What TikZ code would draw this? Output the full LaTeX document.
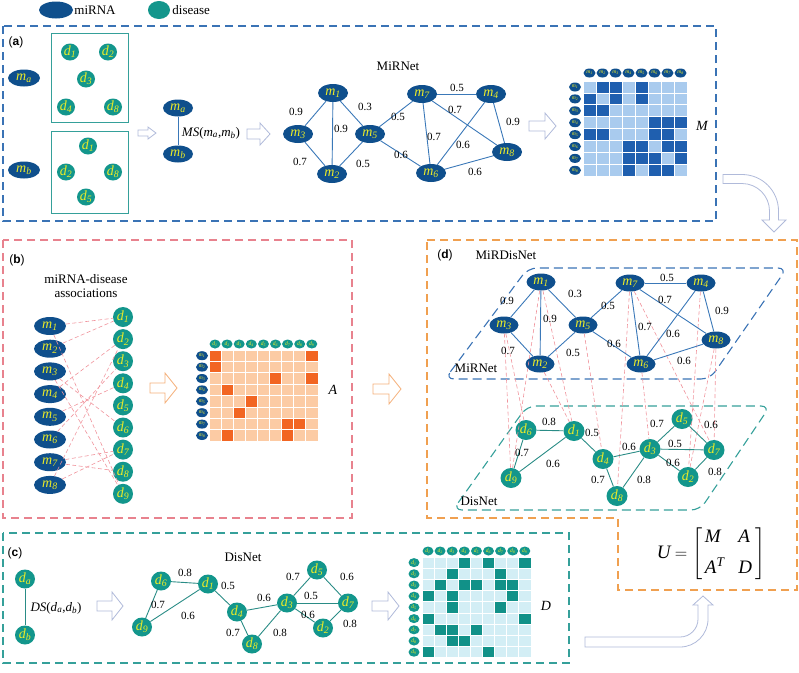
\documentclass[tikz,border=0pt]{standalone}
\usepackage{amsmath}
\usepackage{fontspec}
\setmainfont{Liberation Serif}
\newfontfamily\panelfont{Liberation Sans}
\usepackage{tikz}
\usetikzlibrary{shapes.geometric}
\usetikzlibrary{positioning}

\definecolor{mirblue}{HTML}{0F4F8C}
\definecolor{disteal}{HTML}{13968C}
\definecolor{labyellow}{HTML}{EBEB28}
\definecolor{edgeblue}{HTML}{3A78B8}
\definecolor{edgeteal}{HTML}{2A8C86}
\definecolor{assocpink}{HTML}{F0949C}
\definecolor{boxblue}{HTML}{3A73B5}
\definecolor{boxpink}{HTML}{E8828E}
\definecolor{boxteal}{HTML}{35A09A}
\definecolor{boxorange}{HTML}{F0A050}
\definecolor{mdark}{HTML}{1F5FAF}
\definecolor{mlight}{HTML}{A9CBEE}
\definecolor{adark}{HTML}{F26522}
\definecolor{alight}{HTML}{FCCBA4}
\definecolor{ddark}{HTML}{119188}
\definecolor{dlight}{HTML}{D3EEF5}
\definecolor{arrowgray}{HTML}{B0BADA}
\definecolor{arroworange}{HTML}{F5B07A}

\newcommand{\fsz}[1]{\fontsize{#1}{#1}\selectfont}
\newcommand{\nlab}[2]{#1\textsubscript{#2}}

\tikzset{
  mir/.style={ellipse, fill=mirblue, text=labyellow, inner sep=0pt,
    minimum width=30pt, minimum height=18pt, font=\fsz{14}\itshape},
  dis/.style={ellipse, fill=disteal, text=labyellow, inner sep=0pt,
    minimum width=20pt, minimum height=19pt, font=\fsz{14}\itshape},
  mhead/.style={ellipse, fill=mirblue, text=labyellow, inner sep=0pt,
    minimum width=12pt, minimum height=9pt, font=\fsz{5.5}\itshape},
  dhead/.style={mhead, fill=disteal},
  miredge/.style={draw=edgeblue, line width=0.9pt},
  disedge/.style={draw=edgeteal, line width=0.9pt},
  wt/.style={inner sep=0pt, font=\fsz{11}},
  assoc/.style={draw=assocpink, line width=0.6pt, dash pattern=on 4pt off 2.5pt},
  panel/.style={line width=1.2pt, dash pattern=on 8pt off 5pt},
  layer/.style={line width=1.1pt, dash pattern=on 9pt off 5pt, rounded corners=9pt},
  panellab/.style={inner sep=0pt, font=\panelfont\fsz{12}},
  title/.style={inner sep=0pt, font=\fsz{13}},
  matlab/.style={inner sep=0pt, font=\fsz{14}\itshape},
  hollow/.style={line width=0.8pt, fill=white}
}

\begin{document}
\begin{tikzpicture}[x=1pt, y=-1pt]
\useasboundingbox (0,0) rectangle (799,672);

% legend
\node[mir, minimum width=34pt, minimum height=17pt] (legm) at (56,10) {};
\node[right=1pt of legm, inner sep=0pt, font=\fsz{13}] (legmt) {miRNA};
\node[dis, minimum width=22pt, minimum height=18pt] (legd) at (159,10) {};
\node[right=2pt of legd, inner sep=0pt, font=\fsz{13}] (legdt) {disease};

% panels
\draw[panel, boxblue] (3,26) rectangle (716,221);
\draw[panel, boxpink] (3,240) rectangle (352,518);
\draw[panel, boxteal] (3,533) rectangle (569,663);
\draw[panel, boxorange] (427,240) -- (797,240) -- (797,590) -- (618,590) -- (618,518) -- (427,518) -- cycle;
\node[panellab] (pa) at (16,42) {(\textbf{a})};
\node[panellab] (pb) at (17,260) {(\textbf{b})};
\node[panellab] (pc) at (15,553) {(\textbf{c})};
\node[panellab] (pd) at (445,255) {(\textbf{d})};

% hollow arrows
\foreach \xa/\xb/\yy/\s/\h/\hl/\col in {138/156/133/3/6/8/arrowgray, 247/270/134/5/11/10/arrowgray,
    529/556/126/5/13/11/arrowgray, 150/177/388/5/15/12/arroworange, 373/401/389/5/15/12/arroworange,
    97/123/606/5/14/11/arrowgray, 372/399/606/5/14/11/arrowgray}
  \draw[hollow, draw=\col] (\xa,{\yy-\s}) -- ({\xb-\hl},{\yy-\s}) -- ({\xb-\hl},{\yy-\h}) -- (\xb,\yy)
    -- ({\xb-\hl},{\yy+\h}) -- ({\xb-\hl},{\yy+\s}) -- (\xa,{\yy+\s}) -- cycle;
\draw[hollow, draw=arrowgray] (723,174.5) -- (742,174.5) arc[start angle=-90, end angle=0, radius=36.5]
  -- (778.5,220) -- (786,220) -- (774,232) -- (762,220) -- (769.5,220) -- (769.5,211)
  arc[start angle=0, end angle=-90, radius=27.5] -- (723,183.5) -- cycle;
\draw[hollow, draw=arrowgray] (585,647) -- (680,647) arc[start angle=90, end angle=0, radius=28]
  -- (708,605) -- (713,605) -- (703,596) -- (693,605) -- (698,605) -- (698,619)
  arc[start angle=0, end angle=90, radius=18] -- (585,637) -- cycle;

% (a) similarity
\draw[draw=boxteal, line width=0.8pt] (51,33) rectangle (128,122);
\draw[draw=boxteal, line width=0.8pt] (51,131) rectangle (128,213);
\node[mir, minimum width=32pt, minimum height=17pt] (ama) at (24,78) {\nlab{m}{a}};
\node[mir, minimum width=32pt, minimum height=17pt] (amb) at (24,170) {\nlab{m}{b}};
\foreach \n/\x/\y in {1/70/52, 2/108/52, 3/86/79, 4/66/107, 8/113/107}
  \node[dis, minimum width=18pt, minimum height=17pt] (ua\n) at (\x,\y) {\nlab{d}{\n}};
\foreach \n/\x/\y in {1/88/146, 2/66/172, 8/113/172, 5/86/197}
  \node[dis, minimum width=18pt, minimum height=17pt] (la\n) at (\x,\y) {\nlab{d}{\n}};
\node[mir, minimum height=17pt] (pma) at (178,108) {\nlab{m}{a}};
\node[mir, minimum height=17pt] (pmb) at (178,154) {\nlab{m}{b}};
\draw[miredge] (pma) -- (pmb);
\node[inner sep=0pt, font=\fsz{13}] (msab) at (211,133) {\textit{MS}(\nlab{\textit{m}}{\textit{a}},\nlab{\textit{m}}{\textit{b}})};

% (a) MiRNet
\node[title] (ta) at (398,66) {MiRNet};
\foreach \n/\x/\y in {1/333/93, 2/332/174, 3/298/134, 4/491/94, 5/370/134, 6/431/173, 7/422/94, 8/507/152}
  \node[mir] (am\n) at (\x,\y) {\nlab{m}{\n}};
\foreach \p/\q in {1/3,3/2,1/2,1/5,2/5,5/7,5/6,7/4,7/8,7/6,4/6,4/8,6/8}
  \draw[miredge] (am\p) -- (am\q);
\foreach \x/\y/\w [count=\k] in {296/112/0.9, 300/162/0.7, 341/129/0.9, 365/107/0.3, 363/164/0.5,
    398/117/0.5, 401/155/0.6, 457/88/0.5, 455/110/0.7, 434/137/0.7, 463/145/0.6, 513/122/0.9, 475/172/0.6}
  \node[wt] (aw\k) at (\x,\y) {\w};

% matrix M
\foreach \r in {1,...,8}
  \foreach \c in {1,...,8}
    \filldraw[fill=mlight, draw=white, line width=0.8pt] ({583+(\c-1)*13},{81+(\r-1)*11.9}) rectangle ++(13,11.9);
\foreach \r/\cols in {1/{2,3,5}, 2/{1,3,5}, 3/{1,2}, 4/{6,7,8}, 5/{1,2,6,7}, 6/{4,5,7,8}, 7/{4,5,6,8}, 8/{4,6,7}}
  \foreach \c in \cols
    \filldraw[fill=mdark, draw=white, line width=0.8pt] ({583+(\c-1)*13},{81+(\r-1)*11.9}) rectangle ++(13,11.9);
\foreach \i in {1,...,8} {
  \node[mhead] (mcol\i) at ({589.5+(\i-1)*13},73) {\nlab{m}{\i}};
  \node[mhead] (mrow\i) at (575,{87+(\i-1)*11.9}) {\nlab{m}{\i}};
}
\node[matlab] (labm) at (702,126) {M};

% (b) associations
\node[title, align=center, font=\fsz{13}\linespread{1.1}\selectfont] (tb) at (86,286) {miRNA-disease\\associations};
\foreach \i in {1,...,8}
  \node[mir, minimum width=32pt] (bm\i) at (50,{326+(\i-1)*22.7}) {\nlab{m}{\i}};
\foreach \j in {1,...,9}
  \node[dis, minimum height=20pt] (bd\j) at (123,{317+(\j-1)*22.1}) {\nlab{d}{\j}};
\foreach \p/\q in {1/1,1/9,2/1,3/6,3/9,4/2,5/4,6/3,7/7,7/8,8/2,8/7}
  \draw[assoc] (bm\p) -- (bd\q);

% matrix A
\foreach \r in {1,...,8}
  \foreach \c in {1,...,9}
    \filldraw[fill=alight, draw=white, line width=0.8pt] ({209+(\c-1)*12.1},{350+(\r-1)*11.4}) rectangle ++(12.1,11.4);
\foreach \r/\cols in {1/{1,9}, 2/{1}, 3/{6,9}, 4/{2}, 5/{4}, 6/{3}, 7/{7,8}, 8/{2,7}}
  \foreach \c in \cols
    \filldraw[fill=adark, draw=white, line width=0.8pt] ({209+(\c-1)*12.1},{350+(\r-1)*11.4}) rectangle ++(12.1,11.4);
\foreach \i in {1,...,9}
  \node[dhead, minimum width=11pt] (acol\i) at ({215+(\i-1)*12.1},344) {\nlab{d}{\i}};
\foreach \i in {1,...,8}
  \node[mhead] (arow\i) at (202,{355.7+(\i-1)*11.4}) {\nlab{m}{\i}};
\node[matlab] (laba) at (333,390) {A};

% (c) DisNet
\node[dis] (cda) at (25,579) {\nlab{d}{a}};
\node[dis] (cdb) at (25,635) {\nlab{d}{b}};
\draw[disedge] (cda) -- (cdb);
\node[inner sep=0pt, font=\fsz{13}] (dsab) at (56,608) {\textit{DS}(\nlab{\textit{d}}{\textit{a}},\nlab{\textit{d}}{\textit{b}})};
\node[title] (tc) at (243,557) {DisNet};
\foreach \n/\x/\y in {1/208/584, 2/323/628, 3/287/603, 4/237/612, 5/317/570, 6/161/581, 7/348/603, 8/252/644, 9/142/627}
  \node[dis] (cd\n) at (\x,\y) {\nlab{d}{\n}};
\foreach \p/\q in {6/1,1/4,6/9,9/1,4/3,3/5,5/7,3/7,3/2,7/2,4/8,3/8}
  \draw[disedge] (cd\p) -- (cd\q);
\foreach \x/\y/\w [count=\k] in {185/573/0.8, 228/586/0.5, 158/605/0.7, 188/616/0.6, 264/598/0.6, 293/577/0.7,
    347/577/0.6, 311/596/0.5, 308/615/0.6, 350/624/0.8, 233/633/0.7, 280/633/0.8}
  \node[wt] (cw\k) at (\x,\y) {\w};

% matrix D
\foreach \r in {1,...,9}
  \foreach \c in {1,...,9}
    \filldraw[fill=dlight, draw=white, line width=0.8pt] ({422+(\c-1)*12.1},{557+(\r-1)*11.2}) rectangle ++(12.1,11.2);
\foreach \r/\cols in {1/{4,6,9}, 2/{3,7}, 3/{2,4,5,7,8}, 4/{1,3,8}, 5/{3,7}, 6/{1,9}, 7/{2,3,5}, 8/{3,4}, 9/{1,6}}
  \foreach \c in \cols
    \filldraw[fill=ddark, draw=white, line width=0.8pt] ({422+(\c-1)*12.1},{557+(\r-1)*11.2}) rectangle ++(12.1,11.2);
\foreach \i in {1,...,9} {
  \node[dhead, minimum width=11pt] (dcol\i) at ({428+(\i-1)*12.1},551) {\nlab{d}{\i}};
  \node[dhead, minimum width=11pt] (drow\i) at (414,{562.6+(\i-1)*11.2}) {\nlab{d}{\i}};
}
\node[matlab] (labd) at (546,606) {D};

% (d) MiRDisNet
\node[title] (td) at (506,255) {MiRDisNet};
\draw[layer, boxblue] (445,379) -- (528,268) -- (787,268) -- (710,379) -- cycle;
\draw[layer, boxteal] (453,510) -- (527,406) -- (770,406) -- (700,510) -- cycle;
\node[title] (tdm) at (476,368) {MiRNet};
\node[title] (tdd) at (479,501) {DisNet};
\foreach \n/\x/\y in {1/541/282, 2/540/364, 3/504/325, 4/701/283, 5/583/325, 6/641/364, 7/630/283, 8/716/340}
  \node[mir, minimum width=29pt, minimum height=17pt] (dm\n) at (\x,\y) {\nlab{m}{\n}};
\foreach \n/\x/\y in {1/574/431, 2/688/477, 3/650/449, 4/603/459, 5/682/419, 6/526/430, 7/714/450, 8/617/496, 9/511/478}
  \node[dis, minimum width=21pt, minimum height=20pt] (dd\n) at (\x,\y) {\nlab{d}{\n}};
\foreach \p/\q in {1/1,1/9,2/1,3/6,3/9,4/2,5/4,6/3,7/7,7/8,8/2,8/7}
  \draw[assoc] (dm\p) -- (dd\q);
\foreach \p/\q in {1/3,3/2,1/2,1/5,2/5,5/7,5/6,7/4,7/8,7/6,4/6,4/8,6/8}
  \draw[miredge] (dm\p) -- (dm\q);
\foreach \p/\q in {6/1,1/4,6/9,9/1,4/3,3/5,5/7,3/7,3/2,7/2,4/8,3/8}
  \draw[disedge] (dd\p) -- (dd\q);
\foreach \x/\y/\w [count=\k] in {507/301/0.9, 508/351/0.7, 550/319/0.9, 575/294/0.3, 573/353/0.5,
    608/306/0.5, 614/344/0.6, 667/278/0.5, 665/300/0.7, 645/327/0.7, 673/334/0.6, 722/311/0.9, 684/361/0.6}
  \node[wt] (dmw\k) at (\x,\y) {\w};
\foreach \x/\y/\w [count=\k] in {549/422/0.8, 592/433/0.5, 522/453/0.7, 553/464/0.6, 629/447/0.6, 657/424/0.7,
    711/425/0.6, 675/444/0.5, 673/463/0.6, 715/472/0.8, 598/480/0.7, 644/480/0.8}
  \node[wt] (ddw\k) at (\x,\y) {\w};

% U
\node[inner sep=0pt, font=\fsz{19}] (ueq) at (711,554)
  {\textit{U}\,$=\left[\begin{array}{@{\,}l@{\hspace{14pt}}l@{\,}}\textit{M} & \textit{A}\\[9pt] \textit{A}^{\textit{T}} & \textit{D}\end{array}\right]$};
\end{tikzpicture}
\end{document}
